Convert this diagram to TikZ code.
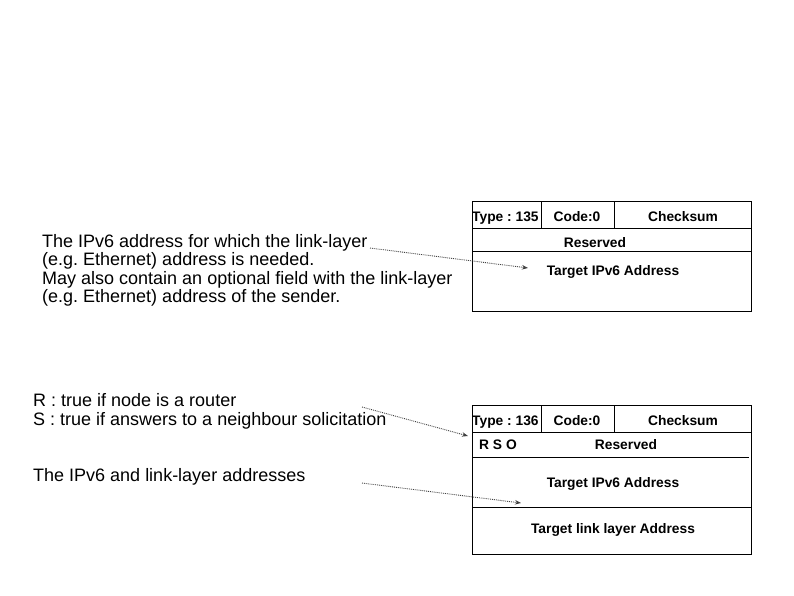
\documentclass[tikz,border=0pt]{standalone}
\usepackage{fontspec}
\setmainfont{Liberation Sans}
\usetikzlibrary{positioning,arrows.meta}
\frenchspacing

\begin{document}
\begin{tikzpicture}[x=1pt,y=-1pt,
  desc/.style={anchor=base west,inner sep=0pt,font=\fontsize{18}{18}\selectfont},
  fld/.style={anchor=base,inner sep=0pt,font=\fontsize{13.8}{13.8}\selectfont\bfseries},
  ptr/.style={densely dotted,black!75,line width=0.9pt,-{Stealth[length=6pt,width=4.5pt]}}]
\useasboundingbox (0,0) rectangle (794,595);

% neighbour solicitation
\draw[line width=1pt] (472,201) rectangle (751,311);
\draw[line width=1pt] (472,228) -- (751,228);
\draw[line width=1pt] (472,251) -- (751,251);
\draw[line width=0.8pt] (541,201) -- (541,228);
\draw[line width=0.8pt] (614,201) -- (614,228);
\node[fld,anchor=base west] (type1) at (472,221) {Type : 135};
\node[fld] (code1) at (577,221) {Code:0};
\node[fld] (chk1) at (683,221) {Checksum};
\node[fld] (res1) at (595,247) {Reserved};
\node[fld] (tgt1) at (613,275) {Target IPv6 Address};

\node[desc] (ns1) at (42,247) {The IPv6 address for which the link-layer};
\node[desc] (ns2) at (42,265.5) {(e.g. Ethernet) address is needed.};
\node[desc] (ns3) at (42,284) {May also contain an optional field with the link-layer};
\node[desc] (ns4) at (42,302.5) {(e.g. Ethernet) address of the sender.};

\coordinate (p1) at (370,248);
\coordinate (q1) at (528,268);
\draw[ptr] (p1) -- (q1);

% neighbour advertisement
\draw[line width=1pt] (472,405) rectangle (751,554);
\draw[line width=1pt] (472,432) -- (751,432);
\draw[line width=0.8pt] (472,457) -- (749,457);
\draw[line width=1pt] (472,507) -- (751,507);
\draw[line width=0.8pt] (541,405) -- (541,432);
\draw[line width=0.8pt] (614,405) -- (614,432);
\node[fld,anchor=base west] (type2) at (472,425) {Type : 136};
\node[fld] (code2) at (577,425) {Code:0};
\node[fld] (chk2) at (683,425) {Checksum};
\node[fld,anchor=base west] (flags) at (479,449) {R S O};
\node[fld] (res2) at (626,449) {Reserved};
\node[fld] (tgt2) at (613,487) {Target IPv6 Address};
\node[fld] (lla) at (613,533) {Target link layer Address};

\node[desc] (na1) at (33,406) {R : true if node is a router};
\node[desc] (na2) at (33,425) {S : true if answers to a neighbour solicitation};
\node[desc] (na3) at (33,481) {The IPv6 and link-layer addresses};

\coordinate (p2) at (362,407);
\coordinate (q2) at (468,436);
\draw[ptr] (p2) -- (q2);
\coordinate (p3) at (362,483);
\coordinate (q3) at (521,503);
\draw[ptr] (p3) -- (q3);
\end{tikzpicture}
\end{document}
